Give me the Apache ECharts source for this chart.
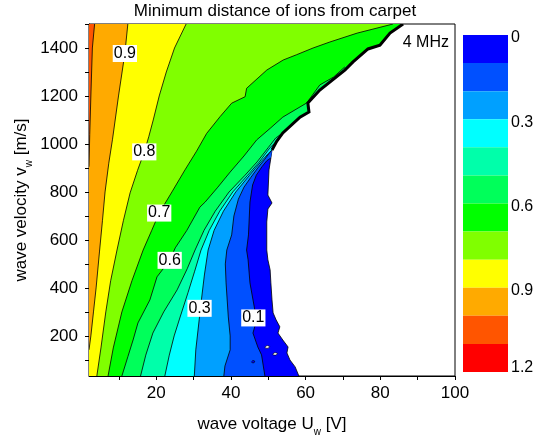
<!DOCTYPE html>
<html>
<head>
<meta charset="utf-8">
<script src="https://cdn.jsdelivr.net/npm/echarts@6/dist/echarts.min.js"></script>
<style>
  html, body { margin: 0; padding: 0; background: #fff; }
  #chart { width: 534px; height: 442px; }
</style>
</head>
<body>
<div id="chart"></div>
<script>
// colour of each 0.1 band, from 0 (top of the scale) to 1.2
var bandColors = ['#0000ff', '#0050ff', '#00a0ff', '#00ffff', '#00ffaa', '#00ff5a',
                  '#00ff00', '#80ff00', '#ffff00', '#ffaa00', '#ff5500', '#ff0000'];
var scaleTicks = [0, 0.3, 0.6, 0.9, 1.2];
var xLabels = [20, 40, 60, 80, 100];
var xTickValues = [10, 20, 30, 40, 50, 60, 70, 80, 90, 100];
var yLabels = [200, 400, 600, 800, 1000, 1200, 1400];
var yTickValues = [100, 200, 300, 400, 500, 600, 700, 800, 900, 1000, 1100, 1200, 1300, 1400, 1500];

// edge of the region with data (white beyond it), [U, v] from bottom to top
var outerEdge = [[58.2, 33], [57.2, 71], [55.8, 100], [55.0, 129], [55.3, 154], [53.9, 183],
  [52.6, 212], [53.1, 238], [52.1, 267], [51.3, 296], [51.0, 350], [50.7, 421], [50.5, 475],
  [49.9, 517], [49.6, 558], [49.6, 675], [49.9, 729], [51.0, 754], [49.9, 787], [50.2, 892],
  [50.7, 942], [51.0, 975], [52.3, 1012], [53.9, 1046], [58.5, 1112], [60.9, 1133], [60.6, 1171],
  [63.8, 1225], [70.5, 1308], [72.7, 1342], [76.7, 1396], [79.9, 1412], [82.6, 1462], [86.1, 1500]];

// contour lines, [U, v] from bottom to top
var contour01 = [[49.1, 33], [48.2, 121], [47.2, 154], [45.9, 212], [46.9, 267], [46.4, 308],
  [45.1, 421], [44.6, 517], [44.2, 558], [44.7, 621], [45.1, 758], [45.8, 829], [46.8, 870],
  [48.3, 905], [49.6, 930], [50.7, 942]];
var contour02 = [[38.1, 33], [38.4, 75], [39.8, 142], [39.8, 200], [39.3, 279], [38.7, 421],
  [38.5, 500], [38.9, 558], [40.2, 621], [40.8, 700], [42.0, 770], [43.5, 820], [45.3, 860],
  [47.2, 900], [49.0, 935], [50.2, 960], [51.0, 975]];
var contour03 = [[30.2, 33], [30.6, 142], [31.5, 267], [32.1, 350], [32.9, 454], [33.9, 558],
  [35.5, 640], [38.0, 720], [41.3, 800], [45.0, 870], [48.0, 925], [50.0, 960], [51.0, 975]];
var contour04 = [[22.3, 33], [23.5, 120], [24.8, 200], [26.4, 279], [28.5, 380], [30.3, 470],
  [32.0, 558], [34.2, 640], [37.0, 720], [40.5, 800], [44.5, 870], [47.6, 925], [50.5, 985],
  [52.3, 1012]];
var contour05 = [[15.8, 33], [17.2, 120], [19.1, 212], [22.0, 300], [25.6, 392], [28.3, 480],
  [30.4, 558], [32.8, 640], [35.8, 720], [39.5, 800], [43.8, 870], [47.0, 925], [50.0, 985],
  [52.0, 1025], [53.9, 1046]];
var contour06 = [[10.8, 33], [12.4, 113], [13.8, 183], [15.1, 254], [18.3, 350], [20.2, 446],
  [23.6, 515], [25.1, 567], [28.2, 640], [31.7, 737], [33.1, 758], [36.5, 820], [39.8, 883],
  [43.5, 950], [46.9, 1017], [50.5, 1065], [53.9, 1112], [60.3, 1171], [63.8, 1246],
  [67.5, 1279], [70.5, 1321]];
var contour07 = [[7.1, 33], [8.5, 150], [10.8, 300], [13.5, 430], [16.5, 558], [18.8, 640],
  [20.8, 712], [24.2, 800], [27.7, 892], [30.8, 970], [33.5, 1044], [37.1, 1114], [40.2, 1170],
  [43.8, 1197], [44.2, 1232], [49.6, 1308], [54.0, 1350], [57.6, 1372], [62.0, 1400],
  [66.5, 1425], [73.8, 1462], [83.4, 1500]];
var contour08 = [[4.1, 33], [5.2, 150], [6.5, 300], [7.8, 430], [9.5, 558], [11.2, 680],
  [13.0, 796], [15.0, 890], [16.8, 967], [18.0, 1030], [19.2, 1100], [20.8, 1200], [22.7, 1300],
  [24.9, 1400], [28.0, 1500]];
var contour09 = [[2.0, 142], [2.5, 200], [3.2, 300], [3.9, 400], [4.8, 550], [5.6, 680],
  [6.3, 800], [7.3, 920], [8.3, 1020], [9.9, 1200], [11.6, 1377], [12.4, 1500]];
var contour10 = [[2.0, 905], [2.2, 1040], [2.5, 1200], [2.9, 1400], [3.5, 1500]];

// small islands: [band index, outline]; -1 means no data (white)
var islands = [
  [-1, [[49.1, 154], [49.7, 160], [50.4, 156], [50.0, 149], [49.3, 149]]],
  [-1, [[51.2, 125], [51.8, 131], [52.5, 127], [52.1, 120], [51.4, 120]]],
  [0, [[45.5, 92], [45.9, 98], [46.4, 95], [46.2, 88], [45.7, 88]]]
];

var contourLabels = [['0.9', 11.6, 1377], ['0.8', 16.8, 967], ['0.7', 20.8, 712],
  ['0.6', 23.6, 515], ['0.3', 31.6, 315], ['0.1', 46.0, 275]];

var xMin = 2, xMax = 100, yMin = 33, yMax = 1500;
var FONT = '"Liberation Sans", Arial, sans-serif';

// band k is filled from the left edge up to its line
var bands = [outerEdge, contour01, contour02, contour03, contour04, contour05,
             contour06, contour07, contour08, contour09, contour10];

function closeShape(line) {
  var pts = line.slice();
  var last = line[line.length - 1];
  if (last[1] < yMax && last[0] > xMin) {
    outerEdge.forEach(function (p) { if (p[1] > last[1]) pts.push(p); });
  }
  pts.push([xMin, yMax]);
  pts.push([xMin, line[0][1]]);
  return pts;
}

var chart = echarts.init(document.getElementById('chart'));

var subRich = {
  n: { fontSize: 17, lineHeight: 26, fontFamily: FONT, color: '#000' },
  s: { fontSize: 10, lineHeight: 10, padding: [16, 0, 0, 0], fontFamily: FONT, color: '#000' }
};

chart.setOption({
  animation: false,
  graphic: [
    { type: 'text', x: 275, y: 11, style: { text: 'Minimum distance of ions from carpet',
      font: '17px ' + FONT, fill: '#000', align: 'center', verticalAlign: 'middle' } },
    { type: 'text', x: 449, y: 43, z: 100, style: { text: '4 MHz',
      font: '16px ' + FONT, fill: '#000', align: 'right', verticalAlign: 'middle' } }
  ],
  grid: [
    { left: 89, top: 24, width: 366, height: 352, show: true, borderColor: '#000', borderWidth: 1,
      containLabel: false, outerBoundsMode: 'none' },
    { left: 463, top: 35, width: 45, height: 337, containLabel: false, outerBoundsMode: 'none' }
  ],
  xAxis: [
    {
      type: 'value', gridIndex: 0, min: xMin, max: xMax,
      axisLine: { show: true, lineStyle: { color: '#000', width: 1 } },
      axisTick: { show: true, length: 4, customValues: xTickValues, lineStyle: { color: '#000' } },
      axisLabel: { customValues: xLabels, fontSize: 17, color: '#000', fontFamily: FONT, margin: 9 },
      splitLine: { show: false },
      name: '{n|wave voltage U}{s|w}{n| [V]}',
      nameLocation: 'middle', nameGap: 35, nameMoveOverlap: false,
      nameTextStyle: { rich: subRich }
    },
    { type: 'value', gridIndex: 1, min: 0, max: 1, show: false }
  ],
  yAxis: [
    {
      type: 'value', gridIndex: 0, min: yMin, max: yMax,
      axisLine: { show: true, lineStyle: { color: '#000', width: 1 } },
      axisTick: { show: true, length: 4, customValues: yTickValues, lineStyle: { color: '#000' } },
      axisLabel: { customValues: yLabels, fontSize: 17, color: '#000', fontFamily: FONT, margin: 11,
        formatter: function (v) { return String(v); } },
      splitLine: { show: false },
      name: '{n|wave velocity v}{s|w}{n| [m/s]}',
      nameLocation: 'middle', nameGap: 55, nameMoveOverlap: false,
      nameTextStyle: { rich: subRich }
    },
    {
      type: 'value', gridIndex: 1, min: 0, max: 1.2, inverse: true, position: 'right',
      axisLine: { show: false }, axisTick: { show: false }, splitLine: { show: false },
      axisLabel: {
        customValues: scaleTicks, color: '#000', margin: 3,
        formatter: function (v) { return (v >= 1.2 ? '{b|' : '{a|') + v + '}'; },
        rich: {
          a: { fontSize: 16, fontFamily: FONT, color: '#000', padding: [6, 0, 0, 0] },
          b: { fontSize: 16, fontFamily: FONT, color: '#000', padding: [0, 0, 9, 0] }
        }
      }
    }
  ],
  series: [
    {
      type: 'custom', xAxisIndex: 0, yAxisIndex: 0, silent: true, clip: true,
      data: bands.map(function (b, i) { return [i]; }),
      renderItem: function (params, api) {
        var i = params.dataIndex;
        var line = bands[i];
        var poly = closeShape(line).map(function (p) { return api.coord(p); });
        var edge = line.map(function (p) { return api.coord(p); });
        var children = [
          { type: 'polygon', z2: i * 3, shape: { points: poly }, style: { fill: bandColors[i] } },
          { type: 'polyline', z2: i * 3 + 1, shape: { points: edge },
            style: { stroke: '#000', lineWidth: 0.8, fill: null } }
        ];
        if (i === 0) {
          var upper = line.filter(function (p) { return p[1] >= 975; })
                          .map(function (p) { return api.coord(p); });
          children.push({ type: 'polyline', z2: 100, shape: { points: upper },
            style: { stroke: '#000', lineWidth: 3, fill: null } });
        }
        return { type: 'group', children: children };
      }
    },
    {
      type: 'custom', xAxisIndex: 0, yAxisIndex: 0, silent: true, z: 4,
      data: islands.map(function (s, i) { return [i]; }),
      renderItem: function (params, api) {
        var s = islands[params.dataIndex];
        return {
          type: 'polygon',
          shape: { points: s[1].map(function (p) { return api.coord(p); }) },
          style: { fill: s[0] < 0 ? '#fff' : bandColors[s[0]], stroke: '#000', lineWidth: 0.6 }
        };
      }
    },
    {
      type: 'custom', xAxisIndex: 0, yAxisIndex: 0, silent: true, z: 5,
      data: contourLabels.map(function (l) { return [l[1], l[2]]; }),
      renderItem: function (params, api) {
        var l = contourLabels[params.dataIndex];
        var p = api.coord([l[1], l[2]]);
        return {
          type: 'text', x: p[0], y: p[1],
          style: { text: l[0], font: '16px ' + FONT, fill: '#000', align: 'center',
            verticalAlign: 'middle', backgroundColor: '#fff', padding: [1, 1, 0, 1] }
        };
      }
    },
    {
      type: 'custom', xAxisIndex: 1, yAxisIndex: 1, silent: true,
      data: bandColors.map(function (c, i) { return [i]; }),
      renderItem: function (params, api) {
        var i = params.dataIndex;
        var a = api.coord([0, i * 0.1]);
        var b = api.coord([1, (i + 1) * 0.1]);
        return {
          type: 'rect',
          shape: { x: a[0], y: Math.min(a[1], b[1]), width: b[0] - a[0], height: Math.abs(b[1] - a[1]) },
          style: { fill: bandColors[i] }
        };
      }
    }
  ]
});
</script>
</body>
</html>
